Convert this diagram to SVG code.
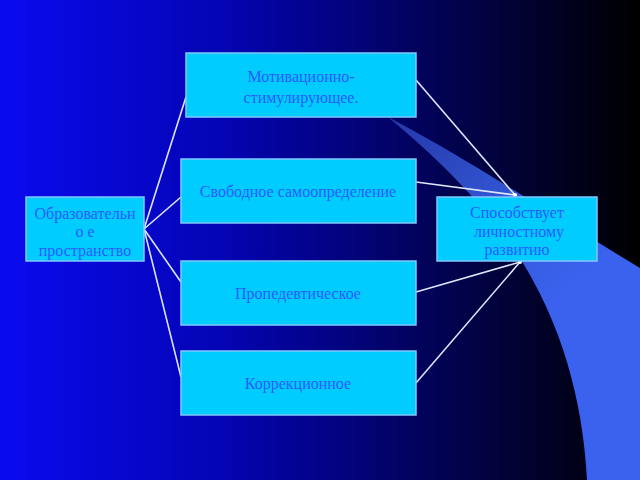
<svg xmlns="http://www.w3.org/2000/svg" width="640" height="480" viewBox="0 0 640 480">
<defs>
<linearGradient id="bg" x1="0" y1="0" x2="1" y2="0">
<stop offset="0" stop-color="#0a0af0"/>
<stop offset="0.35" stop-color="#0404b4"/>
<stop offset="0.7" stop-color="#020250"/>
<stop offset="1" stop-color="#000000"/>
</linearGradient>
<linearGradient id="sw" x1="390" y1="117" x2="560" y2="300" gradientUnits="userSpaceOnUse">
<stop offset="0" stop-color="#2438a8"/>
<stop offset="0.6" stop-color="#3458d8"/>
<stop offset="1" stop-color="#3a62ee"/>
</linearGradient>
<style>
.box{fill:#00ccff;stroke:#80c8ff;stroke-width:1.5}
.t{font-family:"Liberation Serif","Times New Roman",serif;font-size:16px;fill:#2a5cff;text-anchor:middle}
.c{stroke:#dde6ff;stroke-width:1.6;fill:none}
</style>
</defs>
<rect x="0" y="0" width="640" height="480" fill="url(#bg)"/>
<path d="M388,117 C470,160 560,220 640,268 L640,480 L587,480 C584,420 570,340 523,263 C490,210 440,160 388,117 Z" fill="url(#sw)"/>
<g id="connectors">
<line class="c" x1="144" y1="229" x2="186" y2="97"/>
<line class="c" x1="144" y1="229" x2="181" y2="197"/>
<line class="c" x1="144" y1="229" x2="181" y2="282"/>
<line class="c" x1="144" y1="229" x2="181" y2="377"/>
<line class="c" x1="416" y1="80" x2="515" y2="195"/>
<line class="c" x1="416" y1="182" x2="515" y2="195"/>
<line class="c" x1="416" y1="292" x2="520" y2="262"/>
<line class="c" x1="416" y1="383" x2="520" y2="262"/>
<circle cx="515" cy="195" r="2" fill="#ffffff"/>
<circle cx="520" cy="262" r="2" fill="#ffffff"/>
</g>
<g id="n-left">
<rect class="box" x="26" y="197" width="118" height="64"/>
<text class="t" x="85" y="219">Образовательн</text>
<text class="t" x="85" y="237">о е</text>
<text class="t" x="85" y="256">пространство</text>
</g>
<g id="n1">
<rect class="box" x="186" y="53" width="230" height="64"/>
<text class="t" x="301" y="82">Мотивационно-</text>
<text class="t" x="301" y="103">стимулирующее.</text>
</g>
<g id="n2">
<rect class="box" x="181" y="159" width="235" height="64"/>
<text class="t" x="298" y="197">Свободное самоопределение</text>
</g>
<g id="n3">
<rect class="box" x="181" y="261" width="235" height="64"/>
<text class="t" x="298" y="299">Пропедевтическое</text>
</g>
<g id="n4">
<rect class="box" x="181" y="351" width="235" height="64"/>
<text class="t" x="298" y="389">Коррекционное</text>
</g>
<g id="n-right">
<rect class="box" x="437" y="197" width="160" height="64"/>
<text class="t" x="517" y="218">Способствует</text>
<text class="t" x="519" y="237">личностному</text>
<text class="t" x="517" y="255">развитию</text>
</g>
</svg>
